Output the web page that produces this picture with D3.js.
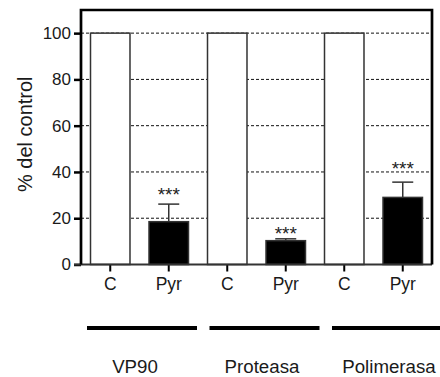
<!DOCTYPE html>
<html>
<head>
<meta charset="utf-8">
<script src="https://cdn.jsdelivr.net/npm/d3@7"></script>
<style>
  html, body { margin: 0; padding: 0; background: #fff; }
  svg { display: block; font-family: "Liberation Sans", Arial, sans-serif; }
</style>
</head>
<body>
<svg id="chart" width="440" height="377"></svg>
<script>
const groups = ["VP90", "Proteasa", "Polimerasa"];
const conditions = ["C", "Pyr"];
const controlValues = [100, 100, 100];
const pyrValues = [18.5, 10.3, 29.0];
const pyrErrors = [7.6, 0.8, 6.6];
const starPositions = [32, 15.3, 43.4];
const starLabels = ["***", "***", "***"];
const yTicks = [0, 20, 40, 60, 80, 100];
const yTitle = "% del control";

const svg = d3.select("#chart");
const mLeft = 81, mRight = 432, mTop = 10, mBottom = 264.5;

const rows = [];
groups.forEach((g, i) => {
  rows.push({ key: g + "|C", group: g, cond: "C", value: controlValues[i], err: null, star: null });
  rows.push({ key: g + "|Pyr", group: g, cond: "Pyr", value: pyrValues[i], err: pyrErrors[i], star: starPositions[i], starText: starLabels[i] });
});

const x = d3.scaleBand().domain(rows.map(d => d.key)).range([mLeft, mRight])
  .paddingInner(0.325).paddingOuter(0.1625);
const y = d3.scaleLinear().domain([0, 110]).range([mBottom, mTop]);

// gridlines
svg.append("g").selectAll("line").data(yTicks.filter(t => t > 0)).join("line")
  .attr("x1", mLeft).attr("x2", mRight)
  .attr("y1", d => y(d)).attr("y2", d => y(d))
  .attr("stroke", "#111").attr("stroke-width", 1).attr("stroke-dasharray", "3,2");

// bars
svg.append("g").selectAll("rect").data(rows).join("rect")
  .attr("x", d => x(d.key)).attr("width", x.bandwidth())
  .attr("y", d => y(d.value)).attr("height", d => y(0) - y(d.value))
  .attr("fill", d => d.cond === "C" ? "#fff" : "#000")
  .attr("stroke", "#333").attr("stroke-width", 1.5);

// error bars
const eb = svg.append("g").selectAll("g").data(rows.filter(d => d.err != null)).join("g")
  .attr("stroke", "#333").attr("stroke-width", 1.5);
eb.append("line")
  .attr("x1", d => x(d.key) + x.bandwidth() / 2).attr("x2", d => x(d.key) + x.bandwidth() / 2)
  .attr("y1", d => y(d.value)).attr("y2", d => y(d.value + d.err));
eb.append("line")
  .attr("x1", d => x(d.key) + x.bandwidth() / 2 - 10.5).attr("x2", d => x(d.key) + x.bandwidth() / 2 + 10.5)
  .attr("y1", d => y(d.value + d.err)).attr("y2", d => y(d.value + d.err));

// stars
svg.append("g").selectAll("text").data(rows.filter(d => d.star != null)).join("text")
  .attr("x", d => x(d.key) + x.bandwidth() / 2)
  .attr("y", d => y(d.star) + 11)
  .attr("text-anchor", "middle").attr("font-size", 19).attr("fill", "#222")
  .text(d => d.starText);

// y axis
const yAxis = svg.append("g").attr("transform", `translate(${mLeft},0)`)
  .call(d3.axisLeft(y).tickValues(yTicks).tickSize(7).tickPadding(3));
yAxis.select(".domain").remove();
yAxis.selectAll(".tick line").attr("stroke", "#000").attr("stroke-width", 2.5);
yAxis.selectAll(".tick text").attr("font-size", 17).attr("fill", "#1a1a1a")
  .attr("font-family", "Liberation Sans, Arial, sans-serif");

// x axis
const xAxis = svg.append("g").attr("transform", `translate(0,${y(0)})`)
  .call(d3.axisBottom(x).tickFormat(k => k.split("|")[1]).tickSize(7).tickPadding(6.5));
xAxis.select(".domain").remove();
xAxis.selectAll(".tick line").attr("stroke", "#000").attr("stroke-width", 2);
xAxis.selectAll(".tick text").attr("font-size", 17.5).attr("fill", "#1a1a1a")
  .attr("font-family", "Liberation Sans, Arial, sans-serif");

// frame
svg.append("line").attr("x1", mLeft - 7).attr("x2", mRight).attr("y1", y(0)).attr("y2", y(0))
  .attr("stroke", "#333").attr("stroke-width", 2);
svg.append("path")
  .attr("d", `M${mLeft},${y(0)} L${mLeft},${mTop} L${mRight},${mTop} L${mRight},${y(0)}`)
  .attr("fill", "none").attr("stroke", "#000").attr("stroke-width", 2.7);

// y title
svg.append("text")
  .attr("transform", `translate(32,${(mTop + mBottom) / 2 - 3}) rotate(-90)`)
  .attr("text-anchor", "middle").attr("font-size", 20).attr("fill", "#1a1a1a")
  .text(yTitle);

// group lines and labels
const gLine = d3.scaleBand().domain(groups).range([87, 442]).paddingInner(0.102).paddingOuter(0);
svg.append("g").selectAll("line").data(groups).join("line")
  .attr("x1", d => gLine(d)).attr("x2", d => gLine(d) + gLine.bandwidth())
  .attr("y1", 328).attr("y2", 328)
  .attr("stroke", "#000").attr("stroke-width", 4);
const gLabel = d3.scalePoint().domain(groups).range([135, 389]);
svg.append("g").selectAll("text").data(groups).join("text")
  .attr("x", d => gLabel(d)).attr("y", 373)
  .attr("text-anchor", "middle").attr("font-size", 18.7).attr("fill", "#1a1a1a")
  .text(d => d);
</script>
</body>
</html>
